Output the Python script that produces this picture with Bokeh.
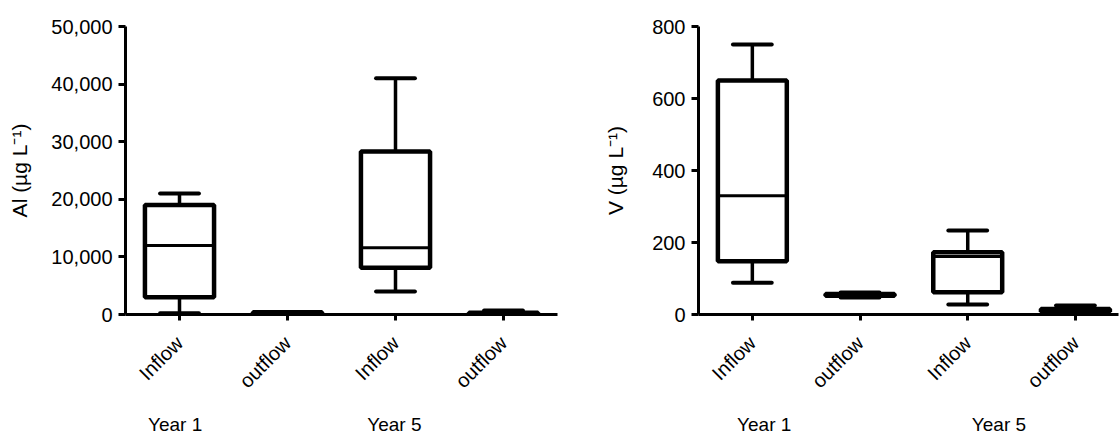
import math
from bokeh.plotting import figure
from bokeh.layouts import row
from bokeh.models import FixedTicker, NumeralTickFormatter, Range1d, ColumnDataSource, LinearAxis
from bokeh.embed import file_html
from bokeh.resources import INLINE

# ---- data ----
categories = ["Inflow", "outflow", "Inflow", "outflow"]
years = ["Year 1", "Year 5"]

al_min = [200, 150, 4000, 50]
al_q1 = [3000, 250, 8100, 100]
al_med = [12000, 300, 11600, 200]
al_q3 = [19000, 400, 28300, 300]
al_max = [21000, 450, 41000, 700]
al_ticks = [0, 10000, 20000, 30000, 40000, 50000]

v_min = [88, 47, 28, 5]
v_q1 = [148, 52, 62, 8]
v_med = [330, 55, 161, 12]
v_q3 = [650, 57, 173, 15]
v_max = [750, 61, 233, 25]
v_ticks = [0, 200, 400, 600, 800]

FONT = "Liberation Sans"


def make(width, bl, br, xend, ymax, yticks, ylabel, fmt, mn, q1, md, q3, mx,
         year_pos, ylab_standoff):
    pos = [i + 0.5 for i in range(len(categories))]
    p = figure(width=width, height=437, x_range=Range1d(0, xend), y_range=Range1d(0, ymax),
               output_backend="svg", toolbar_location=None,
               min_border_left=bl, min_border_right=br, min_border_top=26, min_border_bottom=123)
    p.xgrid.visible = False
    p.ygrid.visible = False
    p.outline_line_color = None
    p.background_fill_color = "white"
    p.border_fill_color = "white"

    bw, cw = 0.32, 0.18
    src = ColumnDataSource(dict(
        x=pos, l=[x - bw for x in pos], r=[x + bw for x in pos],
        cl=[x - cw for x in pos], cr=[x + cw for x in pos],
        mn=mn, q1=q1, md=md, q3=q3, mx=mx))
    # whiskers
    p.segment(x0="x", x1="x", y0="q3", y1="mx", source=src, line_color="black", line_width=3.5)
    p.segment(x0="x", x1="x", y0="mn", y1="q1", source=src, line_color="black", line_width=3.5)
    # caps
    p.segment(x0="cl", x1="cr", y0="mx", y1="mx", source=src, line_color="black", line_width=4, line_cap="round")
    p.segment(x0="cl", x1="cr", y0="mn", y1="mn", source=src, line_color="black", line_width=4, line_cap="round")
    # boxes
    p.quad(left="l", right="r", bottom="q1", top="q3", source=src, fill_color="white",
           line_color="black", line_width=4.5)
    # medians
    p.segment(x0="l", x1="r", y0="md", y1="md", source=src, line_color="black", line_width=3)

    # y axis
    ya = p.yaxis[0]
    ya.ticker = FixedTicker(ticks=yticks)
    ya.formatter = NumeralTickFormatter(format=fmt)
    ya.axis_label = ylabel
    ya.axis_label_text_font = FONT
    ya.axis_label_text_font_size = "21px"
    ya.axis_label_text_font_style = "normal"
    ya.axis_label_text_color = "black"
    ya.axis_label_standoff = ylab_standoff
    ya.major_label_text_font = FONT
    ya.major_label_text_font_size = "20px"
    ya.major_label_text_color = "black"
    ya.major_label_standoff = 6
    ya.axis_line_width = 3
    ya.major_tick_line_width = 3
    ya.major_tick_out = 7
    ya.major_tick_in = 0
    ya.minor_tick_line_color = None

    # x axis (categories)
    xa = p.xaxis[0]
    xa.ticker = FixedTicker(ticks=pos)
    xa.major_label_overrides = {pp: c for pp, c in zip(pos, categories)}
    xa.major_label_orientation = math.pi / 4
    xa.major_label_text_font = FONT
    xa.major_label_text_font_size = "20px"
    xa.major_label_text_color = "black"
    xa.major_label_standoff = 19
    xa.axis_line_width = 3
    xa.major_tick_line_width = 3
    xa.major_tick_out = 6
    xa.major_tick_in = 0
    xa.minor_tick_line_color = None

    # year group labels (second axis below)
    ax2 = LinearAxis(ticker=FixedTicker(ticks=year_pos),
                     major_label_overrides={pp: y for pp, y in zip(year_pos, years)})
    ax2.axis_line_color = None
    ax2.major_tick_line_color = None
    ax2.minor_tick_line_color = None
    ax2.major_tick_out = 0
    ax2.major_tick_in = 0
    ax2.major_label_text_font = FONT
    ax2.major_label_text_font_size = "19px"
    ax2.major_label_text_color = "black"
    ax2.major_label_standoff = 11
    p.add_layout(ax2, "below")
    return p


p1 = make(565, 125, 8, 4.0, 50000, al_ticks, "Al (µg L⁻¹)", "0,0",
          al_min, al_q1, al_med, al_q3, al_max, [0.46, 2.49], 17)
p2 = make(555, 133, 2, 3.9, 800, v_ticks, "V (µg L⁻¹)", "0",
          v_min, v_q1, v_med, v_q3, v_max, [0.61, 2.79], 22)

layout = row(p1, p2)
open("out.html", "w").write(file_html(layout, INLINE))
